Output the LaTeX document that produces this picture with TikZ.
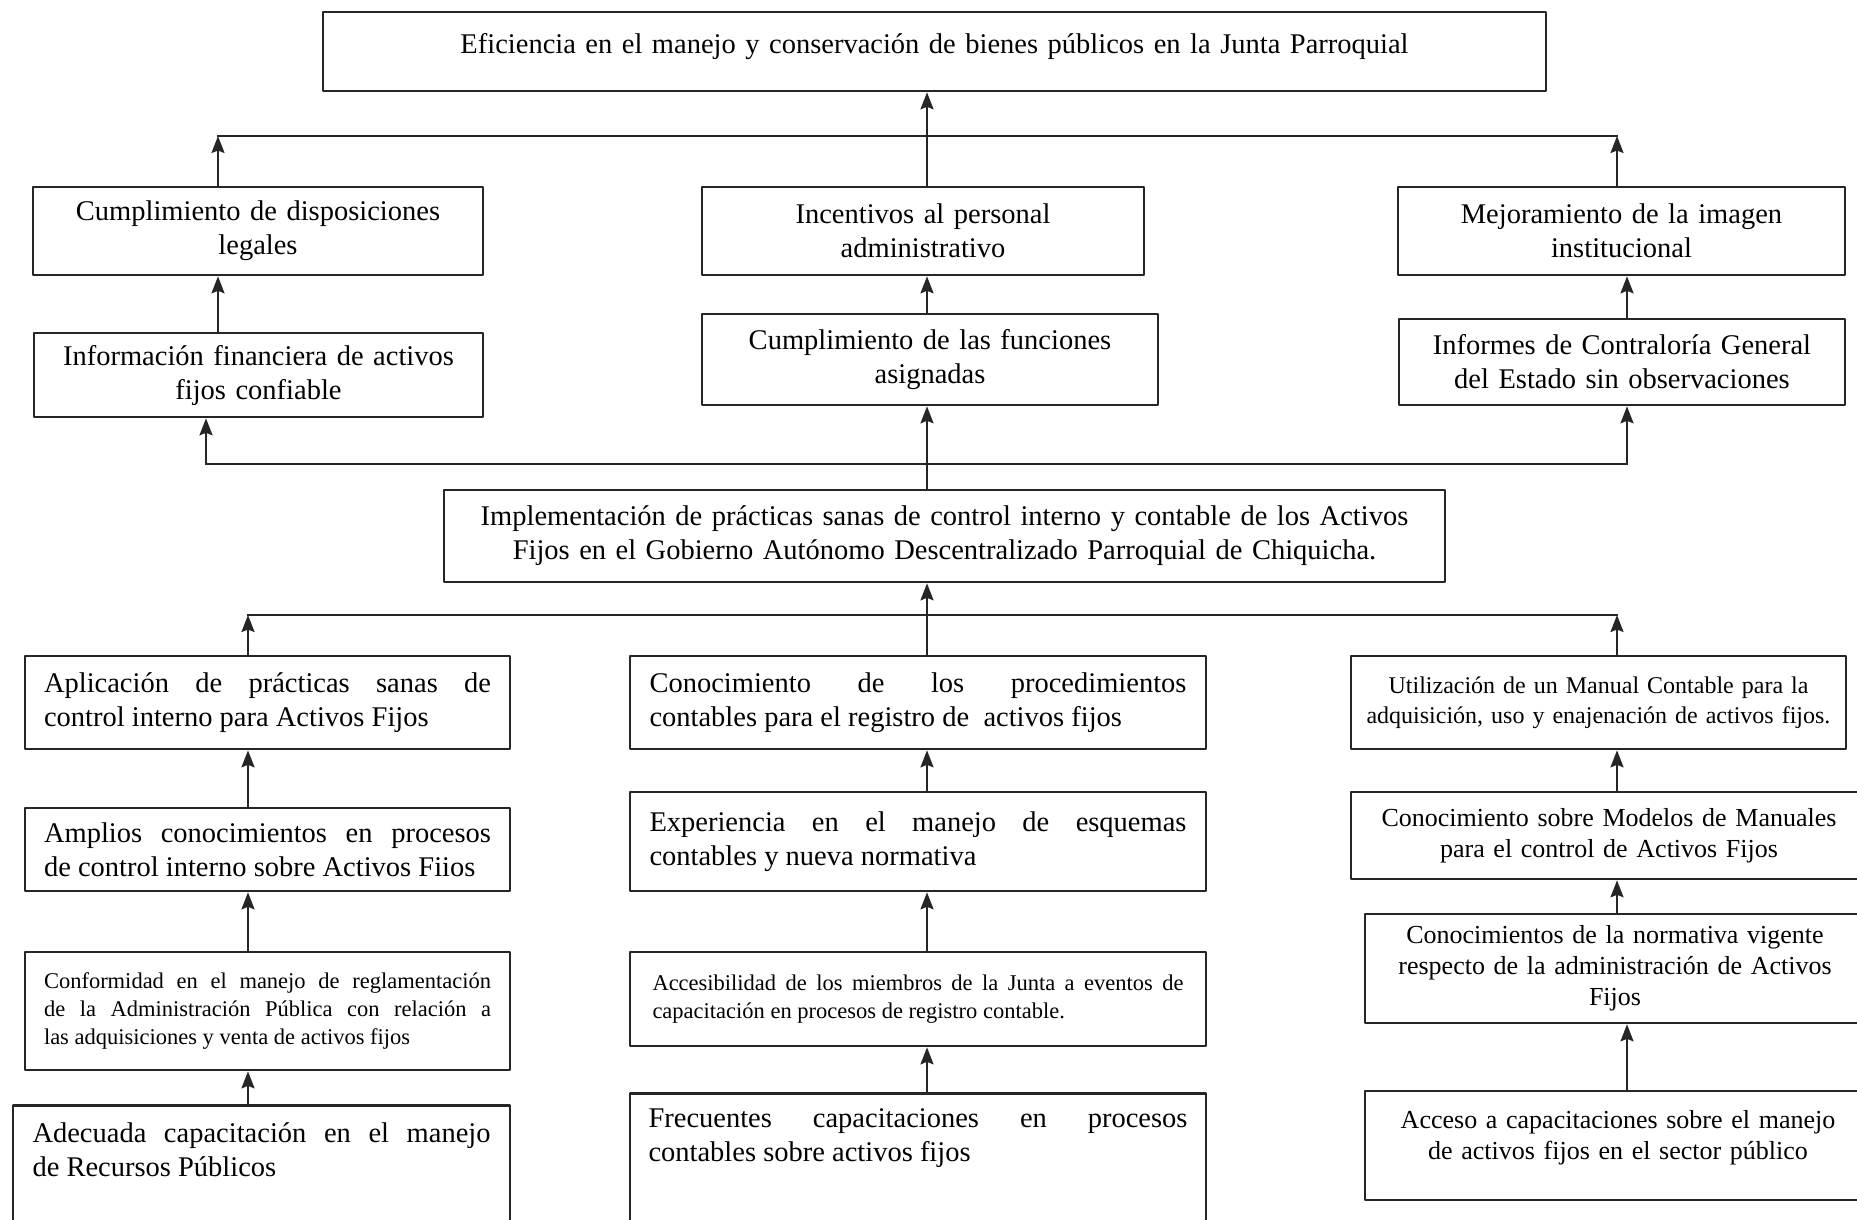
\documentclass[tikz,border=0pt]{standalone}
\usepackage{fontspec}
\setmainfont{Liberation Serif}
\usetikzlibrary{arrows.meta}
\hbadness=10000
\begin{document}
\begin{tikzpicture}[x=1pt,y=-1pt,>={Stealth[length=17pt,width=13pt,inset=2.5pt]},
	line join=round,
	caja/.style={draw=black!85,line width=2.6pt,inner sep=0pt,align=center},
	texto/.style={inner sep=0pt,align=justify},
	flecha/.style={->,draw=black!85,line width=2.2pt},
	bus/.style={draw=black!85,line width=2.2pt,line cap=rect},
	grande/.style={font=\fontsize{28.5}{34}\selectfont},
	mediana/.style={font=\fontsize{26}{31}\selectfont},
	menor/.style={font=\fontsize{24}{30}\selectfont},
	chica/.style={font=\fontsize{22.5}{28}\selectfont}]
	\def\yT{136} \def\yM{464} \def\yB{615} % alturas de las barras
	\useasboundingbox (0,0) rectangle (1857,1219);
	\fill[white] (0,0) rectangle (1857,1219);
	% fin
	\node[caja,grande,minimum width=1223pt,minimum height=79pt,text width=1200pt,text depth=16pt] (efic) at (934.5,51.5) {Eficiencia en el manejo y conservación de bienes públicos en la Junta Parroquial};
	% efectos
	\node[caja,grande,minimum width=450pt,minimum height=88pt,text width=430pt] (disp) at (258,231) {Cumplimiento de disposiciones\\legales};
	\node[caja,grande,minimum width=442pt,minimum height=88pt,text width=422pt] (incent) at (923,231) {Incentivos al personal\\administrativo};
	\node[caja,grande,minimum width=447pt,minimum height=88pt,text width=427pt] (mejora) at (1621.5,231) {Mejoramiento de la imagen\\institucional};
	\node[caja,grande,minimum width=449pt,minimum height=84pt,text width=429pt] (info) at (258.5,375) {Información financiera de activos\\fijos confiable};
	\node[caja,grande,minimum width=456pt,minimum height=91pt,text width=436pt] (cumplf) at (930,359.5) {Cumplimiento de las funciones\\asignadas};
	\node[caja,grande,minimum width=446pt,minimum height=86pt,text width=426pt] (informes) at (1622,362) {Informes de Contraloría General\\del Estado sin observaciones};
	% problema
	\node[caja,grande,minimum width=1001pt,minimum height=92pt,text width=981pt] (impl) at (944.5,536) {Implementación de prácticas sanas de control interno y contable de los Activos\\Fijos en el Gobierno Autónomo Descentralizado Parroquial de Chiquicha.};
	% causas
	\node[caja,grande,align=justify,minimum width=485pt,minimum height=93pt,text width=447pt] (aplic) at (267.5,702.5) {Aplicación de prácticas sanas de\linebreak control interno para Activos Fijos};
	\node[caja,grande,align=justify,minimum width=576pt,minimum height=93pt,text width=537pt] (conoc) at (918,702.5) {Conocimiento de los procedimientos\linebreak contables para el registro de~ activos fijos};
	\node[caja,menor,minimum width=495pt,minimum height=93pt,text width=475pt] (utiliz) at (1598.5,702.5) {Utilización de un Manual Contable para la\\adquisición, uso y enajenación de activos fijos.};
	\node[caja,grande,align=justify,minimum width=485pt,minimum height=83pt,text width=447pt] (amplios) at (267.5,849.5) {Amplios conocimientos en procesos\linebreak de control interno sobre Activos Fiios};
	\node[caja,grande,align=justify,minimum width=576pt,minimum height=99pt,text width=537pt] (exper) at (918,841.5) {Experiencia en el manejo de esquemas\linebreak contables y nueva normativa};
	\node[caja,mediana,minimum width=516pt,minimum height=87pt,text width=496pt] (modelos) at (1609,835.5) {Conocimiento sobre Modelos de Manuales\\para el control de Activos Fijos};
	\node[caja,chica,align=justify,minimum width=485pt,minimum height=118pt,text width=447pt] (conform) at (267.5,1011) {Conformidad en el manejo de reglamentación\linebreak de la Administración Pública con relación a\linebreak las adquisiciones y venta de activos fijos};
	\node[caja,chica,align=justify,minimum width=576pt,minimum height=94pt,text width=531pt] (acces) at (918,999) {Accesibilidad de los miembros de la Junta a eventos de\linebreak capacitación en procesos de registro contable.};
	\node[caja,mediana,minimum width=500pt,minimum height=109pt,text width=480pt] (normat) at (1615,968.5) {Conocimientos de la normativa vigente\\respecto de la administración de Activos\\Fijos};
	\node[caja,anchor=north,minimum width=497pt,minimum height=160pt] (adec) at (261.5,1104) {};
	\node[texto,grande,anchor=north,text width=458pt] (adecT) at ([yshift=-18pt]adec.north) {Adecuada capacitación en el manejo\linebreak de Recursos Públicos};
	\node[caja,anchor=north,minimum width=576pt,minimum height=170pt] (frec) at (918,1092) {};
	\node[texto,grande,anchor=north,text width=539pt] (frecT) at ([yshift=-16pt]frec.north) {Frecuentes capacitaciones en procesos\linebreak contables sobre activos fijos};
	\node[caja,mediana,minimum width=506pt,minimum height=109pt,text width=486pt,text depth=53pt] (acceso) at (1618,1145.5) {Acceso a capacitaciones sobre el manejo\\de activos fijos en el sector público};
	% ejes de las flechas
	\coordinate (xL) at (218,0); \coordinate (xLi) at (206,0); \coordinate (xLb) at (248,0);
	\coordinate (xM) at (927,0);
	\coordinate (xR) at (1617,0); \coordinate (xRi) at (1627,0);
	\coordinate (busT) at (0,\yT); \coordinate (busM) at (0,\yM); \coordinate (busB) at (0,\yB);
	% arriba
	\draw[bus] (xL |- busT) -- (xR |- busT);
	\draw[flecha] (disp.north -| xL) -- (xL |- busT);
	\draw[flecha] (incent.north -| xM) -- (efic.south -| xM);
	\draw[flecha] (mejora.north -| xR) -- (xR |- busT);
	\draw[flecha] (info.north -| xL) -- (disp.south -| xL);
	\draw[flecha] (cumplf.north -| xM) -- (incent.south -| xM);
	\draw[flecha] (informes.north -| xRi) -- (mejora.south -| xRi);
	\draw[bus] (xLi |- busM) -- (xRi |- busM);
	\draw[flecha] (xLi |- busM) -- (info.south -| xLi);
	\draw[flecha] (impl.north -| xM) -- (cumplf.south -| xM);
	\draw[flecha] (xRi |- busM) -- (informes.south -| xRi);
	% abajo
	\draw[bus] (xLb |- busB) -- (xR |- busB);
	\draw[flecha] (aplic.north -| xLb) -- (xLb |- busB);
	\draw[flecha] (conoc.north -| xM) -- (impl.south -| xM);
	\draw[flecha] (utiliz.north -| xR) -- (xR |- busB);
	\draw[flecha] (amplios.north -| xLb) -- (aplic.south -| xLb);
	\draw[flecha] (conform.north -| xLb) -- (amplios.south -| xLb);
	\draw[flecha] (adec.north -| xLb) -- (conform.south -| xLb);
	\draw[flecha] (exper.north -| xM) -- (conoc.south -| xM);
	\draw[flecha] (acces.north -| xM) -- (exper.south -| xM);
	\draw[flecha] (frec.north -| xM) -- (acces.south -| xM);
	\draw[flecha] (modelos.north -| xR) -- (utiliz.south -| xR);
	\draw[flecha] (normat.north -| xR) -- (modelos.south -| xR);
	\draw[flecha] (acceso.north -| xRi) -- (normat.south -| xRi);
\end{tikzpicture}
\end{document}
